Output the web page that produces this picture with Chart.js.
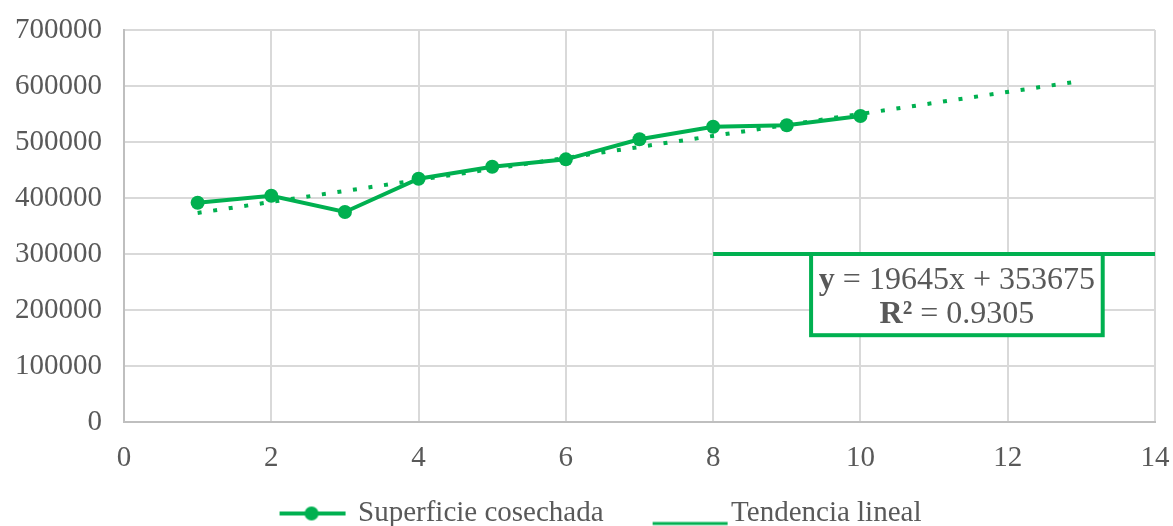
<!DOCTYPE html>
<html>
<head>
<meta charset="utf-8">
<script src="https://cdn.jsdelivr.net/npm/chart.js@4"></script>
<style>
  body { margin: 0; background: #fff; }
  #wrap { width: 1173px; height: 526px; position: relative; }
</style>
</head>
<body>
<div id="wrap"><canvas id="chart"></canvas></div>
<script>
// data
const years = [1, 2, 3, 4, 5, 6, 7, 8, 9, 10];
const superficie = [391600, 404100, 375000, 434500, 455900, 469000, 504800, 527300, 529800, 546400];
const trendX = [1, 12.9];
const trendY = [373320, 607096];
const guideX = [8, 14];
const guideY = [300000, 300000];
const xTicks = [0, 2, 4, 6, 8, 10, 12, 14];
const yTicks = [0, 100000, 200000, 300000, 400000, 500000, 600000, 700000];
const eqText = "= 19645x + 353675";
const r2Text = "= 0.9305";

const green = "#00b050";
const grey = "#595959";
const serif = "'Liberation Serif', 'Times New Roman', serif";

// legend markers as small canvases
function markerCanvas(withDot) {
  const c = document.createElement("canvas");
  c.width = 140; c.height = 40;
  const g = c.getContext("2d");
  g.strokeStyle = green;
  g.fillStyle = green;
  if (withDot) {
    g.lineWidth = 4;
    g.beginPath(); g.moveTo(56, 20); g.lineTo(122, 20); g.stroke();
    g.beginPath(); g.arc(88, 20, 7, 0, Math.PI * 2); g.fill();
  } else {
    g.lineWidth = 3;
    g.beginPath(); g.moveTo(56, 30); g.lineTo(131, 30); g.stroke();
  }
  return c;
}

// equation box
const eqBox = {
  id: "eqBox",
  afterDatasetsDraw(chart) {
    const { ctx, scales: { x, y } } = chart;
    const l = x.getPixelForValue(9.33), r = x.getPixelForValue(13.29);
    const t = y.getPixelForValue(300000), b = y.getPixelForValue(155000);
    ctx.save();
    ctx.fillStyle = "#fff";
    ctx.fillRect(l, t, r - l, b - t);
    ctx.strokeStyle = green;
    ctx.lineWidth = 4;
    ctx.strokeRect(l, t, r - l, b - t);
    ctx.fillStyle = grey;
    ctx.textBaseline = "middle";
    const cx = (l + r) / 2;
    const line = (bold, rest, cy) => {
      ctx.font = "bold 32px " + serif;
      const w1 = ctx.measureText(bold + " ").width;
      ctx.font = "32px " + serif;
      const w2 = ctx.measureText(rest).width;
      const sx = cx - (w1 + w2) / 2;
      ctx.textAlign = "left";
      ctx.font = "bold 32px " + serif;
      ctx.fillText(bold + " ", sx, cy);
      ctx.font = "32px " + serif;
      ctx.fillText(rest, sx + w1, cy);
    };
    line("y", eqText, t + 27);
    line("R²", r2Text, t + 61);
    ctx.restore();
  }
};

new Chart(document.getElementById("chart"), {
  type: "scatter",
  data: {
    datasets: [
      {
        label: "trend",
        data: trendX.map((v, i) => ({ x: v, y: trendY[i] })),
        showLine: true,
        borderColor: green,
        borderWidth: 4,
        borderDash: [4, 11.7],
        borderCapStyle: "butt",
        pointRadius: 0,
        order: 0
      },
      {
        label: "Superficie cosechada",
        data: years.map((v, i) => ({ x: v, y: superficie[i] })),
        showLine: true,
        borderColor: green,
        backgroundColor: green,
        borderWidth: 4,
        pointRadius: 7,
        pointBorderWidth: 0,
        order: 1
      },
      {
        label: "Tendencia lineal",
        data: guideX.map((v, i) => ({ x: v, y: guideY[i] })),
        showLine: true,
        borderColor: green,
        borderWidth: 4,
        pointRadius: 0,
        order: 2
      }
    ]
  },
  options: {
    responsive: true,
    maintainAspectRatio: false,
    animation: false,
    layout: { padding: { top: 30, right: 18, left: 10, bottom: -12 } },
    scales: {
      x: {
        type: "linear",
        min: 0, max: 14,
        afterBuildTicks: s => { s.ticks = xTicks.map(v => ({ value: v })); },
        afterFit: s => { s.height = 64; s.paddingLeft = 0; s.paddingRight = 0; },
        ticks: { font: { family: serif, size: 29 }, color: grey, padding: 19 },
        grid: { color: "#d9d9d9", lineWidth: 2, drawTicks: false },
        border: { color: "#bfbfbf", width: 2 }
      },
      y: {
        min: 0, max: 700000,
        afterBuildTicks: s => { s.ticks = yTicks.map(v => ({ value: v })); },
        afterFit: s => { s.width = 114; s.paddingTop = 0; s.paddingBottom = 0; },
        ticks: { font: { family: serif, size: 29 }, color: grey, padding: 22, callback: v => String(v) },
        grid: { color: "#d9d9d9", lineWidth: 2, drawTicks: false },
        border: { color: "#bfbfbf", width: 2 }
      }
    },
    plugins: {
      tooltip: { enabled: false },
      legend: {
        position: "bottom",
        labels: {
          usePointStyle: true,
          pointStyleWidth: 100,
          padding: 13,
          color: grey,
          font: { family: serif, size: 29 },
          generateLabels: chart => [
            { text: "Superficie cosechada", pointStyle: markerCanvas(true), fontColor: grey, datasetIndex: 1, lineWidth: 0 },
            { text: "Tendencia lineal", pointStyle: markerCanvas(false), fontColor: grey, datasetIndex: 2, lineWidth: 0 }
          ]
        }
      }
    }
  },
  plugins: [eqBox]
});
</script>
</body>
</html>
